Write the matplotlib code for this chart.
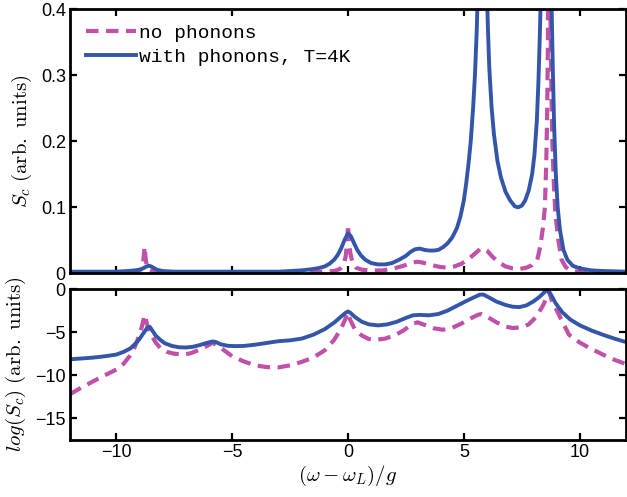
import numpy as np
import matplotlib
matplotlib.use('Agg')
import matplotlib.pyplot as plt

# ---------------------------------------------------------------------------
# Data (x = (w - wL)/g)
# ---------------------------------------------------------------------------

# top panel: S_c, linear scale (peaks above 0.4 are clipped by the axes)
lin_x_blue = [-12, -10, -9.5, -9.2, -9.0, -8.85, -8.72, -8.6, -8.5, -8.4, -8.25, -8.0,
              -7.5, -6, -4, -3, -2.5, -2, -1.5, -1.2, -1.0, -0.8, -0.6, -0.45, -0.3,
              -0.15, 0, 0.12, 0.25, 0.4, 0.55, 0.75, 1.0, 1.3, 1.6, 1.9, 2.2, 2.5,
              2.7, 2.9, 3.1, 3.3, 3.5, 3.7, 3.9, 4.1, 4.3, 4.5, 4.7, 4.85, 5.0, 5.1,
              5.2, 5.3, 5.4, 5.48, 5.56, 5.62, 5.7, 5.8, 5.9, 5.98, 6.04, 6.1, 6.2,
              6.3, 6.45, 6.6, 6.8, 7.0, 7.2, 7.34, 7.5, 7.65, 7.8, 7.95, 8.05, 8.15,
              8.22, 8.28, 8.33, 8.45, 8.55, 8.68, 8.78, 8.84, 8.9, 8.97, 9.05, 9.15,
              9.3, 9.47, 9.7, 10.0, 10.5, 11, 12]
lin_y_blue = [0.002, 0.002, 0.003, 0.004, 0.005, 0.007, 0.0095, 0.011, 0.010, 0.008,
              0.005, 0.003, 0.002, 0.002, 0.002, 0.002, 0.003, 0.004, 0.006, 0.008,
              0.010, 0.014, 0.020, 0.027, 0.037, 0.050, 0.060, 0.056, 0.046, 0.035,
              0.027, 0.020, 0.015, 0.013, 0.013, 0.015, 0.020, 0.026, 0.032, 0.036,
              0.037, 0.035, 0.034, 0.034, 0.035, 0.039, 0.045, 0.054, 0.068, 0.085,
              0.110, 0.135, 0.165, 0.200, 0.250, 0.300, 0.370, 0.450, 0.550, 0.600,
              0.550, 0.450, 0.370, 0.310, 0.250, 0.210, 0.170, 0.145, 0.123, 0.110,
              0.101, 0.0995, 0.102, 0.110, 0.125, 0.150, 0.180, 0.230, 0.290, 0.360,
              0.430, 0.600, 0.700, 0.600, 0.420, 0.310, 0.220, 0.150, 0.100, 0.065,
              0.035, 0.020, 0.011, 0.007, 0.004, 0.003, 0.002]

lin_x_pink = [-12, -9.5, -9.1, -8.95, -8.88, -8.83, -8.78, -8.73, -8.68, -8.6, -8.4,
              -8, -5, -1.5, -1.0, -0.6, -0.35, -0.2, -0.1, -0.03, 0, 0.04, 0.1, 0.2,
              0.35, 0.6, 1.0, 1.5, 2.0, 2.4, 2.8, 3.0, 3.2, 3.6, 4.0, 4.3, 4.6, 4.9,
              5.2, 5.5, 5.7, 5.85, 6.0, 6.2, 6.5, 6.8, 7.1, 7.4, 7.7, 7.95, 8.17,
              8.3, 8.42, 8.5, 8.56, 8.6, 8.63, 8.67, 8.72, 8.77, 8.82, 8.88, 8.95,
              9.08, 9.22, 9.4, 9.6, 10.0, 12]
lin_y_pink = [0.0, 0.001, 0.002, 0.005, 0.010, 0.020, 0.040, 0.020, 0.010, 0.005,
              0.002, 0.001, 0.001, 0.001, 0.002, 0.003, 0.006, 0.012, 0.025, 0.050,
              0.073, 0.050, 0.030, 0.015, 0.008, 0.005, 0.0035, 0.004, 0.007, 0.011,
              0.016, 0.017, 0.016, 0.012, 0.009, 0.008, 0.010, 0.014, 0.021, 0.030,
              0.036, 0.037, 0.034, 0.026, 0.016, 0.010, 0.007, 0.006, 0.008, 0.012,
              0.020, 0.040, 0.070, 0.100, 0.170, 0.250, 0.350, 0.800, 0.450, 0.300,
              0.200, 0.140, 0.090, 0.050, 0.020, 0.009, 0.004, 0.001, 0.0]

# bottom panel: log(S_c)
log_x_blue = [-12, -11.5, -11, -10.5, -10, -9.7, -9.4, -9.2, -9.0, -8.8, -8.65, -8.55,
              -8.45, -8.3, -8.1, -7.9, -7.6, -7.3, -7.0, -6.7, -6.4, -6.1, -5.85,
              -5.7, -5.5, -5.2, -4.9, -4.5, -4.0, -3.5, -3.0, -2.5, -2.0, -1.5, -1.0,
              -0.6, -0.3, -0.1, 0, 0.1, 0.3, 0.6, 0.9, 1.3, 1.7, 2.1, 2.5, 2.8, 3.1,
              3.5, 3.9, 4.3, 4.7, 5.1, 5.45, 5.7, 5.85, 6.1, 6.4, 6.8, 7.1, 7.4, 7.7,
              8.0, 8.25, 8.45, 8.6, 8.75, 8.95, 9.25, 9.6, 10.0, 10.5, 11.0, 11.5, 12]
log_y_blue = [-8.15, -8.05, -7.95, -7.8, -7.6, -7.3, -6.9, -6.4, -5.8, -5.0, -4.45,
              -4.4, -4.8, -5.4, -5.9, -6.3, -6.6, -6.75, -6.78, -6.7, -6.5, -6.25,
              -6.08, -6.15, -6.4, -6.58, -6.62, -6.6, -6.45, -6.25, -6.05, -5.95,
              -5.75, -5.3, -4.65, -3.9, -3.2, -2.75, -2.6, -2.75, -3.25, -3.8, -4.1,
              -4.22, -4.1, -3.8, -3.35, -3.05, -3.0, -3.05, -2.9, -2.5, -1.95, -1.4,
              -0.95, -0.65, -0.65, -1.0, -1.45, -1.85, -2.05, -2.1, -1.9, -1.45,
              -0.95, -0.45, -0.05, -0.6, -1.6, -2.7, -3.55, -4.2, -4.8, -5.3, -5.75,
              -6.15]

log_x_pink = [-12, -11.5, -11, -10.5, -10, -9.7, -9.43, -9.2, -9.0, -8.88, -8.78,
              -8.65, -8.5, -8.3, -8.1, -7.8, -7.5, -7.1, -6.8, -6.4, -6.05, -5.85,
              -5.65, -5.4, -5.0, -4.5, -4.0, -3.5, -3.0, -2.5, -2.0, -1.5, -1.0,
              -0.6, -0.3, -0.1, -0.02, 0.1, 0.3, 0.6, 0.9, 1.2, 1.6, 2.0, 2.4, 2.75,
              3.0, 3.3, 3.7, 4.1, 4.5, 4.9, 5.3, 5.6, 5.75, 6.0, 6.4, 6.8, 7.1, 7.5,
              7.8, 8.1, 8.4, 8.6, 8.68, 8.8, 9.0, 9.2, 9.54, 10.0, 10.4, 11.0, 11.5,
              12]
log_y_pink = [-12.2, -11.4, -10.7, -10.0, -9.34, -8.7, -7.8, -6.7, -5.3, -4.2, -3.0,
              -4.3, -5.3, -6.2, -6.85, -7.3, -7.5, -7.6, -7.45, -7.03, -6.55, -6.25,
              -6.5, -7.0, -7.8, -8.4, -8.85, -9.05, -9.08, -8.85, -8.45, -7.95, -7.1,
              -5.9, -4.6, -3.4, -2.75, -3.6, -4.7, -5.4, -5.8, -5.9, -5.75, -5.4,
              -4.8, -4.1, -3.86, -4.15, -4.55, -4.72, -4.5, -4.0, -3.4, -3.0, -2.9,
              -3.2, -3.85, -4.35, -4.52, -4.45, -4.1, -3.3, -2.0, -0.9, -0.3, -1.4,
              -2.4, -3.5, -5.3, -6.2, -6.8, -7.6, -8.2, -8.7]

BLUE = '#3356ab'
PINK = '#c050a8'
DASH = (0, (3.0, 1.8))

plt.rcParams['mathtext.fontset'] = 'cm'
plt.rcParams['font.family'] = ['Liberation Sans', 'DejaVu Sans']

fig = plt.figure(figsize=(6.27, 4.97), dpi=100)
ax1 = fig.add_axes([70 / 627, 1 - 273 / 497, 556 / 627, 264 / 497])
ax2 = fig.add_axes([70 / 627, 1 - 440 / 497, 556 / 627, 151 / 497])


def style_axes(ax):
    for s in ax.spines.values():
        s.set_linewidth(2.0)
    ax.tick_params(direction='in', top=True, right=True, length=5, width=1.6,
                   labelsize=13, pad=3)
    ax.set_xlim(-12, 12)
    ax.set_xticks([-10, -5, 0, 5, 10])


ax1.plot(lin_x_pink, lin_y_pink, color=PINK, lw=3, ls=DASH, label='no phonons')
ax1.plot(lin_x_blue, lin_y_blue, color=BLUE, lw=2.8, label='with phonons, T=4K')
style_axes(ax1)
ax1.set_ylim(0, 0.4)
ax1.set_yticks([0, 0.1, 0.2, 0.3, 0.4])
ax1.set_yticklabels(['0', '0.1', '0.2', '0.3', '0.4'])
ax1.set_xticklabels([])
ax1.set_ylabel(r'$S_c\ \mathrm{(arb.\ units)}$', fontsize=15, labelpad=5)
ax1.legend(loc='upper left', frameon=False, handlelength=2.6, handletextpad=0.15,
           labelspacing=0.3, borderaxespad=0.4,
           prop={'family': 'Liberation Mono', 'size': 14})

ax2.plot(log_x_pink, log_y_pink, color=PINK, lw=3, ls=DASH)
ax2.plot(log_x_blue, log_y_blue, color=BLUE, lw=2.8)
style_axes(ax2)
ax2.set_ylim(-17.5, 0)
ax2.set_yticks([-15, -10, -5, 0])
ax2.set_yticklabels(['\u221215', '\u221210', '\u22125', '0'])
ax2.set_xticklabels(['\u221210', '\u22125', '0', '5', '10'])
ax2.set_ylabel(r'$log(S_c)\ \mathrm{(arb.\ units)}$', fontsize=15, labelpad=5)
ax2.set_xlabel(r'$(\omega - \omega_L)/g$', fontsize=15, labelpad=2)

fig.savefig('out.png', dpi=100)
